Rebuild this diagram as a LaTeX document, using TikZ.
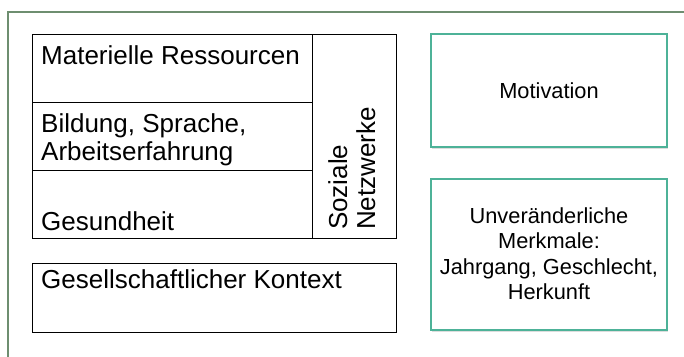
\documentclass[tikz,border=0pt]{standalone}
\usepackage{fontspec}
\setmainfont{Liberation Sans}
\usetikzlibrary{shadows}
\definecolor{framegreen}{RGB}{110,142,112}
\definecolor{tealline}{RGB}{77,178,152}
\begin{document}
\begin{tikzpicture}[x=1pt,y=-1pt,
  cell/.style={draw=black,line width=0.9pt,inner sep=0pt,anchor=north west},
  bigtxt/.style={inner sep=0pt,font=\fontsize{26}{28}\selectfont,align=left},
  sidebox/.style={draw=tealline,line width=1.6pt,fill=white,inner sep=0pt,
    drop shadow={shadow xshift=1.2pt,shadow yshift=-1.5pt,fill=black!22,opacity=0.6}},
  smalltxt/.style={inner sep=0pt,font=\fontsize{21.8}{25.5}\selectfont,align=center}]
  \useasboundingbox (0,0) rectangle (684,356);
  \fill[white] (0,0) rectangle (684,356);
  % outer frame (top and left edges only)
  \coordinate (fbl) at (8,357);
  \coordinate (ftl) at (8,12);
  \coordinate (ftr) at (685,12);
  \draw[framegreen,line width=1.4pt] (fbl) -- (ftl) -- (ftr);
  % resource cells
  \node[cell,minimum width=280pt,minimum height=68pt] (mat) at (32,34) {};
  \node[cell,minimum width=280pt,minimum height=68pt] (bil) at (32,102) {};
  \node[cell,minimum width=280pt,minimum height=68pt] (ges) at (32,170) {};
  \node[cell,minimum width=84pt,minimum height=204pt] (soz) at (312,34) {};
  \node[cell,minimum width=364pt,minimum height=69pt] (kon) at (32,263) {};
  % labels of the cells (base anchor = baseline of the last line)
  \node[bigtxt,anchor=base west] (matT) at (41,64) {Materielle Ressourcen};
  \node[bigtxt,anchor=base west] (bilT) at (41,160) {Bildung, Sprache,\\Arbeitserfahrung};
  \node[bigtxt,anchor=base west] (gesT) at (41,230) {Gesundheit};
  \node[bigtxt,anchor=base west] (konT) at (41,288) {Gesellschaftlicher Kontext};
  \node[bigtxt,rotate=90,anchor=base west] (sozT) at (375,230) {Soziale\\Netzwerke};
  % right-hand boxes
  \node[sidebox,minimum width=236pt,minimum height=113pt] (mot) at (549,90.5) {};
  \node[smalltxt] (motT) at (mot.center) {Motivation};
  \node[sidebox,minimum width=236pt,minimum height=151pt] (mer) at (549,254.5) {};
  \node[smalltxt] (merT) at ([yshift=1pt]mer.center) {Unveränderliche\\Merkmale:\\Jahrgang, Geschlecht,\\Herkunft};
\end{tikzpicture}
\end{document}
